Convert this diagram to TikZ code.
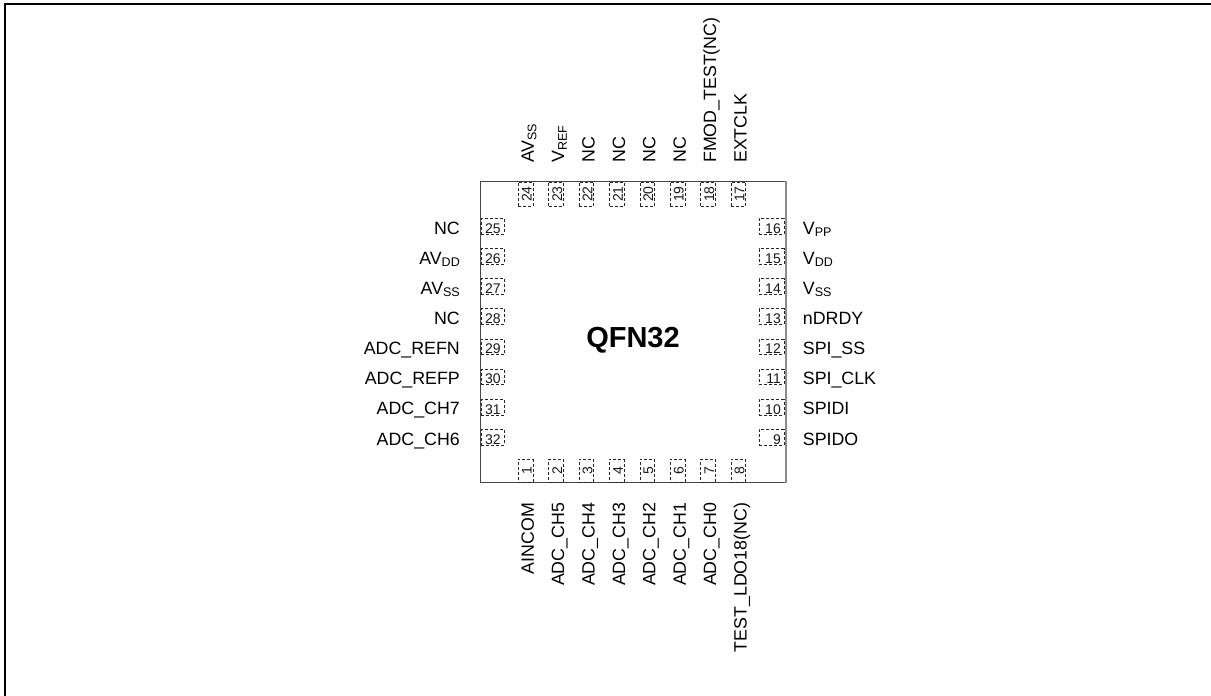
\documentclass[tikz,border=0pt]{standalone}
\usepackage{fontspec}
\setmainfont{Liberation Sans}
\newcommand{\subs}[1]{\raisebox{-2.6pt}{\fontsize{12.5}{14}\selectfont #1}}
\tikzset{
  frameline/.style={line width=2pt,black},
  chipbody/.style={draw=black!72,line width=1.1pt},
  chipright/.style={draw=black!45,line width=1.6pt},
  padbox/.style={draw=black!85,dash pattern=on 3pt off 2pt,line width=0.8pt,inner sep=0pt,fill=white},
  padnum/.style={font=\fontsize{14}{15}\selectfont,inner sep=0pt,text=black!90},
  lbl/.style={font=\fontsize{17.8}{20}\selectfont,inner sep=0pt,text=black},
  title/.style={font=\fontsize{29}{32}\selectfont\bfseries,inner sep=0pt,text=black}
}
\begin{document}
\begin{tikzpicture}[x=1pt,y=-1pt]
\useasboundingbox (0,0) rectangle (1211,696);
\coordinate (fTR) at (1211,4.3);
\coordinate (fTL) at (5,4.3);
\coordinate (fBL) at (5,696);
\draw[frameline] (fTR) -- (fTL) -- (fBL);
\node[chipbody,minimum width=305pt,minimum height=301pt,anchor=north west,inner sep=0pt] (chip) at (480,181) {};
\draw[chipright] (chip.north east) -- (chip.south east);
\node[title,anchor=base] (qfn) at (633,347) {QFN32};
% top pads and labels
\foreach \n/\i/\t in {24/0/{AV\subs{SS}},23/1/{V\subs{REF}},22/2/NC,21/3/NC,20/4/NC,19/5/NC,18/6/FMOD\_TEST(NC),17/7/EXTCLK}{
  \pgfmathsetmacro{\cx}{525.6+30.4*\i}
  \node[padbox,minimum width=14.6pt,minimum height=24.5pt] (pad\n) at (\cx,194.2) {};
  \node[padnum,rotate=90,anchor=base] (num\n) at (\cx+6,194.2) {\n};
  \node[lbl,rotate=90,anchor=base west] (lab\n) at (\cx+8.2,163) {\t};
}
% bottom pads and labels
\foreach \n/\i/\t in {1/0/AINCOM,2/1/ADC\_CH5,3/2/ADC\_CH4,4/3/ADC\_CH3,5/4/ADC\_CH2,6/5/ADC\_CH1,7/6/ADC\_CH0,8/7/TEST\_LDO18(NC)}{
  \pgfmathsetmacro{\cx}{525.6+30.4*\i}
  \node[padbox,minimum width=14.6pt,minimum height=22.7pt] (pad\n) at (\cx,470.7) {};
  \node[padnum,rotate=90,anchor=base] (num\n) at (\cx+6,470.7) {\n};
  \node[lbl,rotate=90,anchor=base east] (lab\n) at (\cx+8.2,502.7) {\t};
}
% left pads and labels
\foreach \n/\i/\t in {25/0/NC,26/1/{AV\subs{DD}},27/2/{AV\subs{SS}},28/3/NC,29/4/ADC\_REFN,30/5/ADC\_REFP,31/6/ADC\_CH7,32/7/ADC\_CH6}{
  \pgfmathsetmacro{\cy}{226.2+30.15*\i}
  \node[padbox,minimum width=23pt,minimum height=15.6pt] (pad\n) at (492.5,\cy) {};
  \node[padnum,anchor=base west] (num\n) at (485,\cy+7) {\n};
  \node[lbl,anchor=base east] (lab\n) at (460,\cy+7.8) {\t};
}
% right pads and labels
\foreach \n/\i/\t in {16/0/{V\subs{PP}},15/1/{V\subs{DD}},14/2/{V\subs{SS}},13/3/nDRDY,12/4/SPI\_SS,11/5/SPI\_CLK,10/6/SPIDI,9/7/SPIDO}{
  \pgfmathsetmacro{\cy}{226.2+30.15*\i}
  \node[padbox,minimum width=24.7pt,minimum height=15.6pt] (pad\n) at (771.6,\cy) {};
  \node[padnum,anchor=base east] (num\n) at (781,\cy+7) {\n};
  \node[lbl,anchor=base west] (lab\n) at (802.7,\cy+7.8) {\t};
}
\end{tikzpicture}
\end{document}
